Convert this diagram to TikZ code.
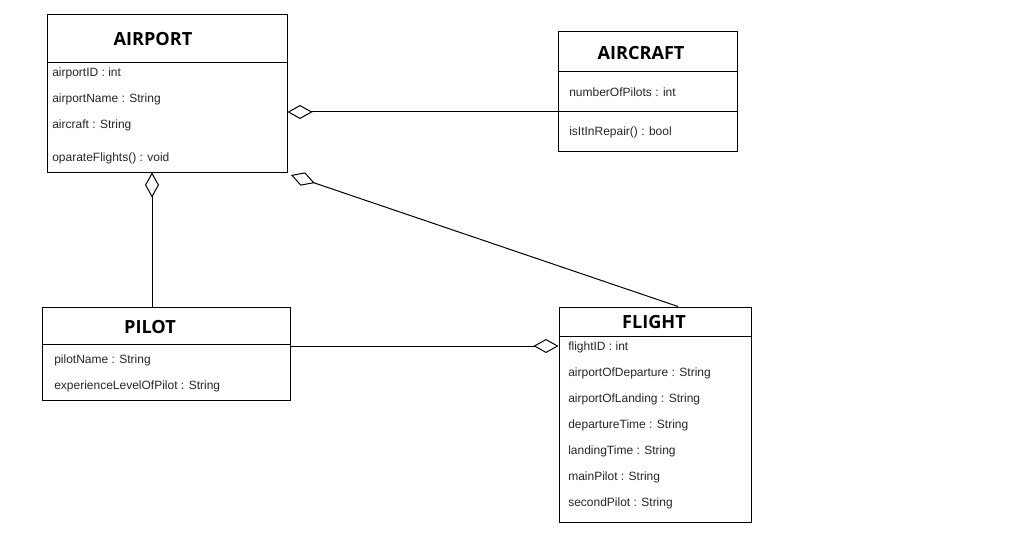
\documentclass[tikz,border=0pt]{standalone}
\usepackage{fontspec}
\setmainfont{Liberation Sans}
\newfontfamily\titlefont{Open Sans}
\usetikzlibrary{arrows.meta,positioning}
\tikzstyle{box}=[rectangle,draw,line width=0.75pt,inner sep=0pt]
\tikzstyle{title}=[font=\titlefont\bfseries\fontsize{13.6}{15}\selectfont]
\tikzstyle{attr}=[anchor=west,inner sep=0pt,yshift=-1.2pt,font=\fontsize{9}{11}\selectfont,text=black!85]
\tikzstyle{sep}=[line width=0.75pt]
\tikzstyle{has a}=[{Diamond[open,length=18.75pt,width=10.5pt,line width=0.75pt]}-,line width=0.75pt]

\begin{document}
\begin{tikzpicture}[x=0.75pt,y=-0.75pt]
\useasboundingbox (0,0) rectangle (1018,542);

% classes
\node (airport) [box,minimum width=180pt,minimum height=117.75pt] at (167,93.5) {};
\node (aircraft) [box,minimum width=134.25pt,minimum height=89.25pt] at (647.5,91.5) {};
\node (pilot) [box,minimum width=186pt,minimum height=69.75pt] at (166,353.5) {};
\node (flight) [box,minimum width=144pt,minimum height=161.25pt] at (655,414.5) {};

% compartments
\coordinate (airport sep) at (47,63);
\coordinate (aircraft sep a) at (558,72);
\coordinate (aircraft sep b) at (558,112);
\coordinate (pilot sep) at (42,344);
\coordinate (flight sep) at (559,336);
\draw [sep] (airport sep) -- (airport sep -| airport.east);
\draw [sep] (aircraft sep a) -- (aircraft sep a -| aircraft.east);
\draw [sep] (aircraft sep b) -- (aircraft sep b -| aircraft.east);
\draw [sep] (pilot sep) -- (pilot sep -| pilot.east);
\draw [sep] (flight sep) -- (flight sep -| flight.east);

\node (airport title) [title] at (153,39) {AIRPORT};
\node (aircraft title) [title] at (641,53) {AIRCRAFT};
\node (pilot title) [title] at (150,327) {PILOT};
\node (flight title) [title] at (654,322) {FLIGHT};

\node [attr] at (52,72) {airportID : int};
\node [attr] at (52,98) {airportName : String};
\node [attr] at (52,124) {aircraft : String};
\node [attr] at (52,157) {oparateFlights() : void};

\node [attr] at (569,91) {numberOfPilots : int};
\node [attr] at (569,131) {isItInRepair() : bool};

\node [attr] at (54,359) {pilotName : String};
\node [attr] at (54,385) {experienceLevelOfPilot : String};

\node [attr] at (568,346) {flightID : int};
\node [attr] at (568,372) {airportOfDeparture : String};
\node [attr] at (568,398) {airportOfLanding : String};
\node [attr] at (568,424) {departureTime : String};
\node [attr] at (568,450) {landingTime : String};
\node [attr] at (568,476) {mainPilot : String};
\node [attr] at (568,502) {secondPilot : String};

% associations
\coordinate (flight end) at (291,175);
\draw [has a] (airport.east |- aircraft sep b) -- (aircraft sep b);
\draw [has a] (airport.south -| 152,0) -- (pilot.north -| 152,0);
\draw [has a] (flight end) -- (flight.north -| 678,0);
\draw [has a] (flight.west |- 0,346) -- (pilot.east |- 0,346);

\end{tikzpicture}
\end{document}
